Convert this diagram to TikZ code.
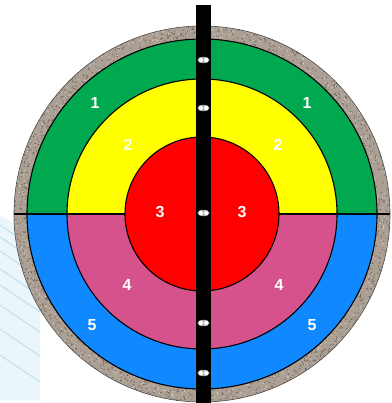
\documentclass[tikz,border=0pt]{standalone}
\usepackage{fontspec}
\setmainfont{Liberation Sans}
\usepackage{tikz}

\definecolor{zonegreen}{RGB}{0,168,80}
\definecolor{zoneyellow}{RGB}{255,255,0}
\definecolor{zonered}{RGB}{255,0,0}
\definecolor{zonepink}{RGB}{214,82,140}
\definecolor{zoneblue}{RGB}{16,136,255}
\definecolor{gravel}{RGB}{172,160,148}
\definecolor{graveldark}{RGB}{112,100,90}
\definecolor{gravellight}{RGB}{222,214,205}
\definecolor{streak}{RGB}{175,218,236}

\tikzset{
  zonelabel/.style={text=white, font=\fontsize{16}{16}\selectfont\bfseries},
  edge/.style={draw=black, line width=1.1pt},
}

\begin{document}
\begin{tikzpicture}[x=1pt, y=-1pt]
  \useasboundingbox (0,0) rectangle (391,403);
  % faint streaks in the background
  \fill[streak, opacity=0.25] (0,215) -- (40,240) -- (40,400) -- (0,400) -- cycle;
  \foreach \s in {0,12,26,44,60,80,104,130}
    \draw[streak, opacity=0.7, line width=1.2pt] (0,225+\s) -- (40,252+\s);
  \begin{scope}[shift={(202,214)}]
    % gravel ring
    \fill[gravel] (0,0) circle (188);
    \pgfmathsetseed{7}
    \foreach \i in {1,...,900} {
      \pgfmathsetmacro\ang{360*rnd}
      \pgfmathsetmacro\rad{175+13*rnd}
      \fill[graveldark] (\ang:\rad) circle (0.7);
    }
    \foreach \i in {1,...,500} {
      \pgfmathsetmacro\ang{360*rnd}
      \pgfmathsetmacro\rad{175+13*rnd}
      \fill[gravellight] (\ang:\rad) circle (0.6);
    }
    % zones
    \fill[zonegreen] (175,0) arc (0:-180:175) -- cycle;
    \fill[zoneblue] (175,0) arc (0:180:175) -- cycle;
    \fill[zoneyellow] (135,0) arc (0:-180:135) -- cycle;
    \fill[zonepink] (135,0) arc (0:180:135) -- cycle;
    \fill[zonered] (0,0) circle (77);
    \draw[edge] (0,0) circle (175);
    \draw[edge] (0,0) circle (135);
    \draw[edge] (0,0) circle (77);
    \draw[edge] (-188,0) -- (-77,0) (77,0) -- (188,0);
    \draw[black!70, line width=0.6pt] (0,0) circle (188);
  \end{scope}
  % centre bar with lights
  \fill[black] (196,5) rectangle (211,403);
  \foreach \yy in {60,108,213,323,373} {
    \fill[gray!60] (203.5,\yy) ellipse (6 and 3.2);
    \fill[white] (200.8,\yy) circle (2.2);
    \fill[white] (206.2,\yy) circle (2.2);
  }
  % zone numbers
  \node[zonelabel] (oneL) at (95,103) {1};
  \node[zonelabel] (oneR) at (307,103) {1};
  \node[zonelabel] (twoL) at (128,145) {2};
  \node[zonelabel] (twoR) at (278,145) {2};
  \node[zonelabel] (threeL) at (160,212) {3};
  \node[zonelabel] (threeR) at (242,212) {3};
  \node[zonelabel] (fourL) at (127,285) {4};
  \node[zonelabel] (fourR) at (279,285) {4};
  \node[zonelabel] (fiveL) at (92,325) {5};
  \node[zonelabel] (fiveR) at (312,325) {5};
\end{tikzpicture}
\end{document}
